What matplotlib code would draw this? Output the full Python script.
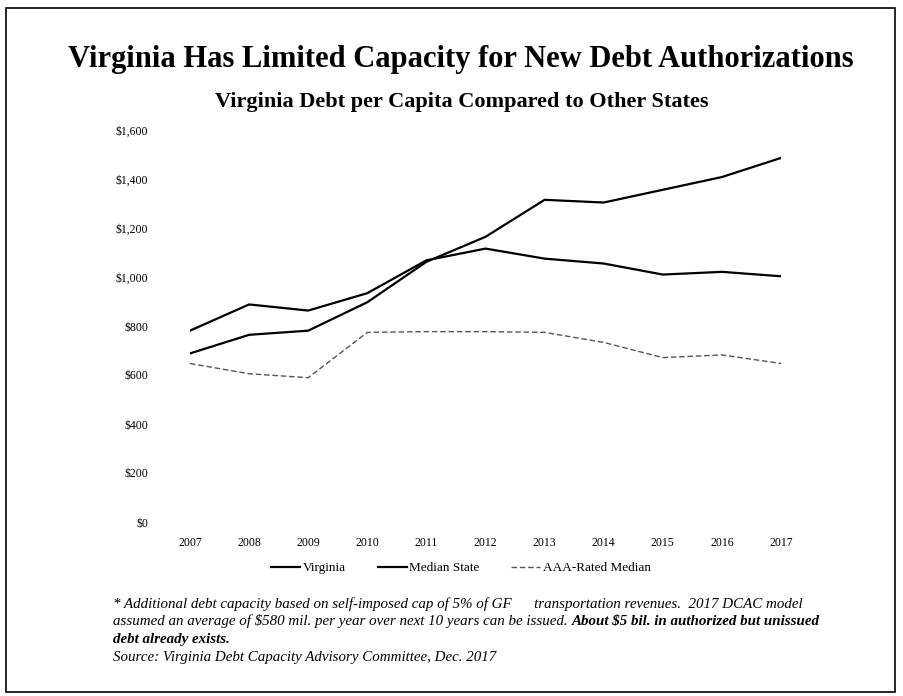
import matplotlib
matplotlib.use("Agg")
import matplotlib.pyplot as plt
from matplotlib.patches import Rectangle

plt.rcParams['font.family'] = ['Liberation Serif', 'DejaVu Serif']

# Data
years = [2007, 2008, 2009, 2010, 2011, 2012, 2013, 2014, 2015, 2016, 2017]
virginia = [688, 764, 781, 897, 1062, 1164, 1315, 1304, 1356, 1408, 1486]
median_state = [781, 888, 863, 934, 1068, 1116, 1075, 1055, 1010, 1021, 1003]
aaa_median = [647, 605, 589, 774, 777, 777, 774, 733, 671, 682, 647]

y_ticks = [0, 200, 400, 600, 800, 1000, 1200, 1400, 1600]
y_labels = ["$0", "$200", "$400", "$600", "$800", "$1,000", "$1,200", "$1,400", "$1,600"]

fig = plt.figure(figsize=(9.04, 6.96), dpi=100)
fig.patch.set_facecolor("white")

# scanned-slide border
fig.patches.append(Rectangle((6/904, 4/696), 889/904, 684/696, transform=fig.transFigure,
                             fill=False, edgecolor="black", linewidth=1.2))

ax = fig.add_axes([190/904, 1 - 522/696, 591/904, 392/696])

ax.plot(years, virginia, color="black", lw=1.6, label="Virginia")
ax.plot(years, median_state, color="black", lw=1.6, label="Median State")
ax.plot(years, aaa_median, color="#555555", lw=1.0, linestyle=(0, (4, 2)),
        label="AAA-Rated Median")

ax.set_xlim(2007, 2017)
ax.set_ylim(0, 1600)
ax.set_xticks(years)
ax.set_xticklabels([str(y) for y in years], fontsize=8.5)
ax.set_yticks(y_ticks)
ax.set_yticklabels(y_labels, fontsize=8.5)
ax.tick_params(length=0)
ax.tick_params(axis="y", pad=30)
ax.tick_params(axis="x", pad=11)
for s in ax.spines.values():
    s.set_visible(False)

ax.legend(loc="center", bbox_to_anchor=(461/904, 1 - 568/696),
          bbox_transform=fig.transFigure, ncol=3, frameon=False,
          fontsize=9.5, handlelength=2.2, handletextpad=0.2, columnspacing=2.4)

fig.text(461/904, 1 - 60/696, "Virginia Has Limited Capacity for New Debt Authorizations",
         ha="center", va="center", fontsize=22, fontweight="bold")
fig.text(462/904, 1 - 102/696, "Virginia Debt per Capita Compared to Other States",
         ha="center", va="center", fontsize=16, fontweight="bold")

# footnote
fx = 113/904
fs = 10.8
fig.text(fx, 1 - 604/696,
         "* Additional debt capacity based on self-imposed cap of 5% of GF      "
         "transportation revenues.  2017 DCAC model",
         ha="left", va="center", fontsize=fs, style="italic")
t1 = fig.text(fx, 1 - 621/696,
              "assumed an average of \\$580 mil. per year over next 10 years can be issued. ",
              ha="left", va="center", fontsize=fs, style="italic")
ax.annotate("About \\$5 bil. in authorized but unissued", xy=(1, 0.5), xycoords=t1,
            ha="left", va="center", fontsize=fs, style="italic", fontweight="bold",
            annotation_clip=False)
fig.text(fx, 1 - 639/696, "debt already exists.",
         ha="left", va="center", fontsize=fs, style="italic", fontweight="bold")
fig.text(fx, 1 - 658/696, "Source: Virginia Debt Capacity Advisory Committee, Dec. 2017",
         ha="left", va="center", fontsize=fs, style="italic")

fig.savefig("out.png", dpi=100)
